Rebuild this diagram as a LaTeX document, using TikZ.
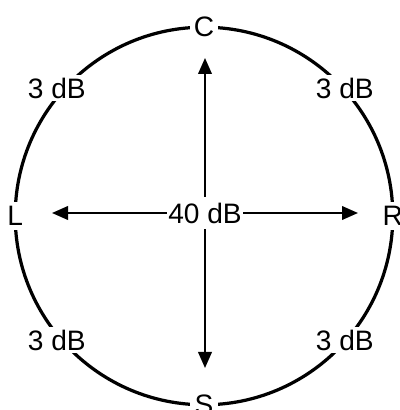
\documentclass[tikz,border=0pt]{standalone}
\usepackage{fontspec}
\setmainfont{Liberation Sans}
\usetikzlibrary{arrows.meta,positioning,calc}

\begin{document}
\begin{tikzpicture}[
        ring/.style={line width=2.3pt},
        pole/.style={fill=white, inner sep=3pt, font=\fontsize{20}{24}\selectfont},
        gain/.style={fill=white, inner sep=2pt, font=\fontsize{20}{24}\selectfont},
        arrow/.style={-{Triangle[length=4mm, width=3.4mm]}, line width=1.4pt}
    ]
        \useasboundingbox (0,0) rectangle (10,10.25);

        % Circle
        \coordinate (o) at (5.1,4.85);
        \draw[ring] (o) circle (4.72);

        % Channels on the circle
        \node[pole] (c) at ($(o)+(90:4.72)$) {C};
        \node[pole] (s) at ($(o)+(270:4.72)$) {S};
        \node[pole] (l) at ($(o)+(180:4.72)$) {L};
        \node[pole] (r) at ($(o)+(0:4.72)$) {R};

        % Neighbour separation
        \node[gain] (cl) at (1.42,8.05) {3 dB};
        \node[gain] (cr) at (8.62,8.05) {3 dB};
        \node[gain] (sl) at (1.42,1.75) {3 dB};
        \node[gain] (sr) at (8.62,1.75) {3 dB};

        % Opposite separation
        \node[gain, inner xsep=1pt, inner ysep=4pt] (mid) at (5.125,4.925) {40 dB};
        \coordinate (ctip) at (5.125,8.8);
        \coordinate (stip) at (5.125,1.05);
        \coordinate (ltip) at (1.3,4.925);
        \coordinate (rtip) at (8.95,4.925);

        % Arrows
        \draw[arrow] (mid) -- (ctip);
        \draw[arrow] (mid) -- (stip);
        \draw[arrow] (mid) -- (ltip);
        \draw[arrow] (mid) -- (rtip);

    \end{tikzpicture}
\end{document}
